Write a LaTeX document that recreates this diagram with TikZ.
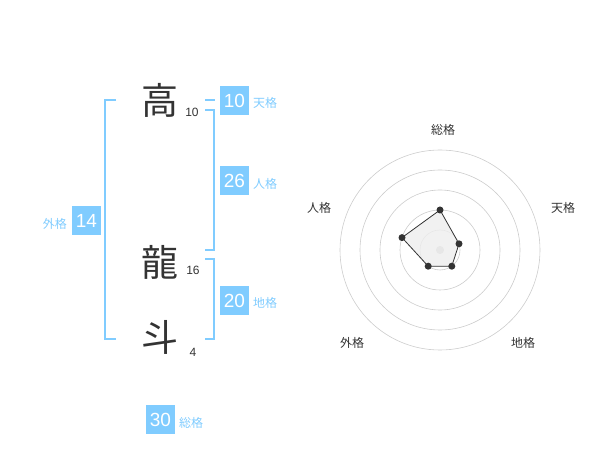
\documentclass[tikz,border=0pt]{standalone}
\usepackage{fontspec}
\setmainfont{Liberation Sans}
\newfontfamily\jp{Noto Sans CJK JP}
\definecolor{sky}{HTML}{80CCFF}
\definecolor{ink}{HTML}{333333}
\definecolor{ring}{HTML}{CCCCCC}
\definecolor{polyfill}{HTML}{EEEEEE}
\tikzset{
  numbox/.style={fill=sky, text=white, minimum size=29pt, inner sep=0pt, font=\fontsize{19}{19}\selectfont},
  kanji/.style={text=ink, font=\jp\fontsize{37}{37}\selectfont, inner sep=0pt},
  strokes/.style={text=ink, font=\fontsize{12}{12}\selectfont, inner sep=0pt},
  kaku/.style={text=sky, font=\jp\fontsize{12}{12}\selectfont, inner sep=0pt},
  radlab/.style={text=ink, font=\jp\fontsize{12}{12}\selectfont, inner sep=0pt},
  brk/.style={draw=sky, line width=1.6pt},
  ringline/.style={draw=ring, line width=0.6pt},
  dot/.style={circle, fill=ink, inner sep=0pt, minimum size=7pt},
}
\begin{document}
\begin{tikzpicture}[x=1pt,y=-1pt]
\useasboundingbox (0,0) rectangle (600,470);
% kanji
\node[kanji] (k1) at (160,100) {高};
\node[kanji] (k2) at (160,262) {龍};
\node[kanji] (k3) at (160,337) {斗};
\node[strokes] (s1) at (192,112) {10};
\node[strokes] (s2) at (193,270) {16};
\node[strokes] (s3) at (193,352) {4};
% brackets
\draw[brk] (116,100) -- (105,100) -- (105,339) -- (116,339);
\draw[brk] (205,100) -- (215,100);
\draw[brk] (205,110) -- (214,110) -- (214,250) -- (205,250);
\draw[brk] (205,259) -- (214,259) -- (214,339) -- (205,339);
% boxes
\node[numbox] (b14) at (86.5,220.5) {14};
\node[kaku, anchor=east] (l14) at (67,224) {外格};
\node[numbox] (b10) at (234.5,100.5) {10};
\node[kaku, anchor=west] (l10) at (253,103) {天格};
\node[numbox] (b26) at (234.5,180.5) {26};
\node[kaku, anchor=west] (l26) at (253,184) {人格};
\node[numbox] (b20) at (234.5,300.5) {20};
\node[kaku, anchor=west] (l20) at (253,303) {地格};
\node[numbox] (b30) at (160.5,419.5) {30};
\node[kaku, anchor=west] (l30) at (179,423) {総格};
% radar
\coordinate (c) at (440,250);
\foreach \r in {20,40,60,80,100} \draw[ringline] (c) circle[radius=\r];
\fill[ring] (c) circle[radius=4];
\path (c) ++(0,-40) coordinate (pS);
\path (c) ++(19.0,-6.2) coordinate (pT);
\path (c) ++(11.8,16.2) coordinate (pC);
\path (c) ++(-11.8,16.2) coordinate (pG);
\path (c) ++(-38.0,-12.4) coordinate (pJ);
\filldraw[fill=polyfill, fill opacity=0.8, draw=ink, line width=0.8pt] (pS) -- (pT) -- (pC) -- (pG) -- (pJ) -- cycle;
\foreach \p in {pS,pT,pC,pG,pJ} \node[dot] at (\p) {};
\node[radlab] (rS) at (443,130) {総格};
\node[radlab] (rT) at (563,208) {天格};
\node[radlab] (rC) at (523,343) {地格};
\node[radlab] (rG) at (352,343) {外格};
\node[radlab] (rJ) at (319,208) {人格};
\end{tikzpicture}
\end{document}
